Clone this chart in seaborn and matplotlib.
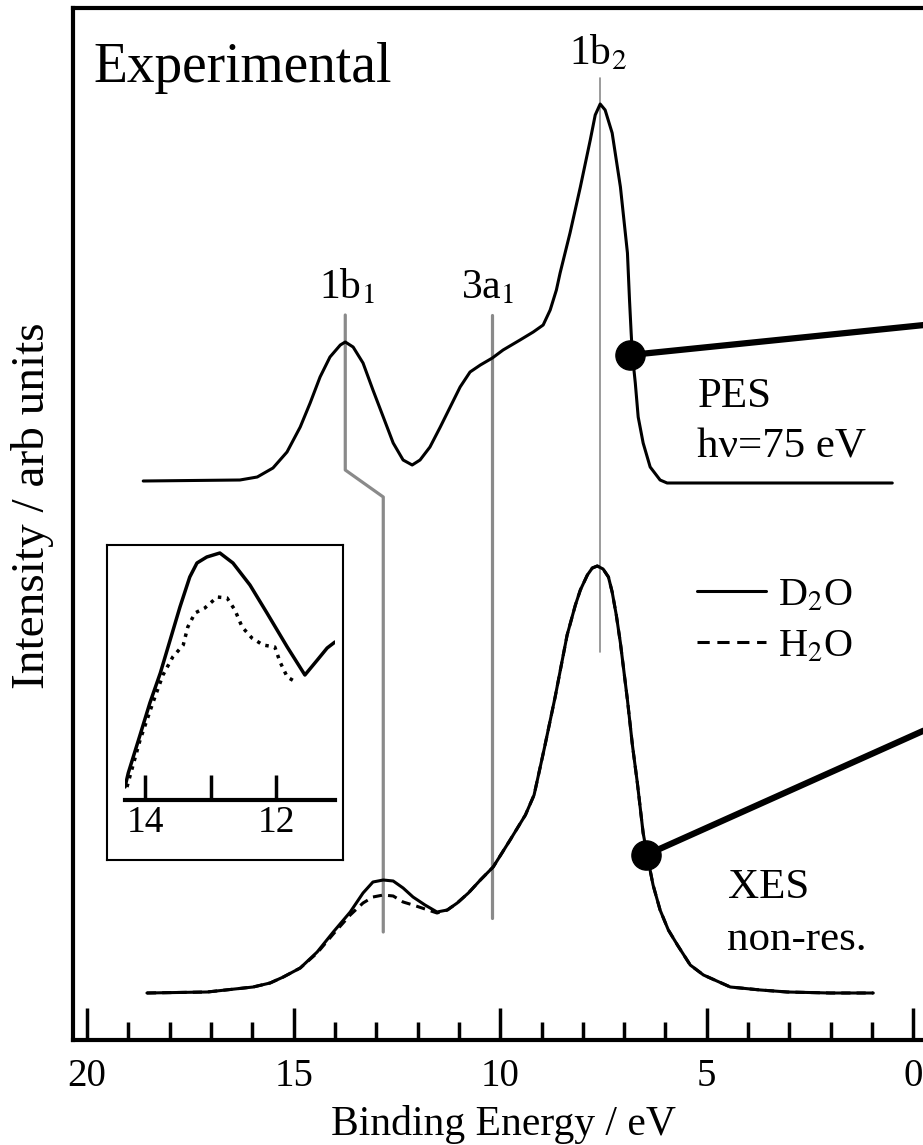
import matplotlib
matplotlib.use("Agg")
import matplotlib.pyplot as plt
import seaborn as sns
from matplotlib.lines import Line2D
from matplotlib.ticker import MultipleLocator

# PES (hv = 75 eV), binding energy in eV / intensity in arb. units (offset)
pes_energy = [18.64, 16.30, 15.88, 15.50, 15.16, 14.84, 14.60, 14.36, 14.12, 13.87,
              13.75, 13.56, 13.32, 13.08, 12.83, 12.59, 12.35, 12.13, 11.94, 11.70,
              11.45, 11.21, 10.97, 10.73, 10.48, 10.19, 9.93, 9.52, 9.20, 8.96,
              8.79, 8.64, 8.55, 8.31, 8.06, 7.82, 7.70, 7.58, 7.46, 7.29,
              7.09, 6.92, 6.87, 6.83, 6.80, 6.73, 6.66, 6.54, 6.37, 6.13,
              5.96, 5.47, 0.51]
pes_int = [5.59, 5.60, 5.63, 5.72, 5.88, 6.13, 6.37, 6.63, 6.83, 6.95,
           6.98, 6.93, 6.77, 6.50, 6.23, 5.97, 5.80, 5.75, 5.80, 5.93,
           6.13, 6.33, 6.53, 6.68, 6.75, 6.82, 6.90, 7.00, 7.08, 7.15,
           7.30, 7.50, 7.67, 8.07, 8.53, 9.00, 9.25, 9.36, 9.30, 9.07,
           8.53, 7.87, 7.40, 7.07, 6.85, 6.57, 6.23, 5.97, 5.73, 5.60,
           5.57, 5.57, 5.57]

# XES non-resonant, D2O (solid) and H2O (dashed)
xes_energy = [18.55, 17.09, 15.98, 15.57, 15.25, 14.84, 14.43, 14.04, 13.63, 13.32,
              13.08, 12.83, 12.59, 12.35, 12.11, 11.82, 11.53, 11.28, 11.04, 10.77,
              10.48, 10.17, 9.76, 9.39, 9.18, 8.93, 8.67, 8.38, 8.18, 8.06,
              7.89, 7.77, 7.65, 7.51, 7.38, 7.29, 7.19, 7.09, 6.92, 6.80,
              6.68, 6.54, 6.42, 6.30, 6.13, 5.93, 5.71, 5.40, 5.08, 4.43,
              3.70, 3.05, 2.01, 0.97]
xes_d2o = [0.47, 0.48, 0.53, 0.57, 0.63, 0.72, 0.88, 1.08, 1.28, 1.47,
           1.58, 1.60, 1.59, 1.52, 1.43, 1.35, 1.28, 1.30, 1.37, 1.47,
           1.60, 1.73, 2.00, 2.25, 2.45, 2.92, 3.43, 4.05, 4.35, 4.50,
           4.65, 4.72, 4.74, 4.71, 4.63, 4.48, 4.25, 3.97, 3.40, 2.95,
           2.57, 2.07, 1.80, 1.55, 1.30, 1.10, 0.95, 0.75, 0.65, 0.53,
           0.50, 0.48, 0.47, 0.47]
xes_h2o = [0.47, 0.48, 0.53, 0.57, 0.63, 0.72, 0.87, 1.06, 1.25, 1.37,
           1.43, 1.45, 1.44, 1.38, 1.35, 1.31, 1.27, 1.30, 1.37, 1.47,
           1.60, 1.73, 2.00, 2.25, 2.45, 2.92, 3.43, 4.05, 4.35, 4.50,
           4.65, 4.72, 4.74, 4.71, 4.63, 4.48, 4.25, 3.97, 3.40, 2.95,
           2.57, 2.07, 1.80, 1.55, 1.30, 1.10, 0.95, 0.75, 0.65, 0.53,
           0.50, 0.48, 0.47, 0.47]

# inset: zoom on the 1b1 region
inset_energy_d2o = [14.31, 14.26, 14.08, 13.93, 13.77, 13.62, 13.47, 13.32, 13.21, 13.06,
                    12.86, 12.66, 12.40, 12.14, 11.83, 11.56, 11.37, 11.22, 11.10]
inset_d2o = [13, 27, 65, 97, 127, 160, 193, 223, 237, 243,
             247, 237, 215, 187, 153, 125, 140, 152, 158]
inset_energy_h2o = [14.28, 14.08, 13.88, 13.73, 13.58, 13.42, 13.35, 13.24, 13.09, 12.90,
                    12.75, 12.63, 12.52, 12.37, 12.20, 12.02, 11.94, 11.83, 11.70]
inset_h2o = [13, 60, 98, 125, 143, 155, 173, 187, 192, 203,
             202, 190, 173, 162, 155, 153, 138, 123, 118]
inset_ticks = [14, 13, 12]
inset_ticklabels = ["14", "", "12"]

# orbital markers (gray guide lines) and labels
orbital_labels = [r"1b$_1$", r"3a$_1$", r"1b$_2$"]
orbital_label_x = [13.70, 10.31, 7.62]
orbital_label_y = [7.42, 7.42, 9.76]
guide_1b1_x = [13.75, 13.75, 12.83, 12.83]
guide_1b1_y = [7.25, 5.70, 5.43, 1.08]
guide_3a1_x = [10.19, 10.19]
guide_3a1_y = [7.25, 1.22]
guide_1b2_x = [7.58, 7.58]
guide_1b2_y = [9.62, 3.88]

# pointers (dot on the curve -> off to the right)
pointer_x = [[6.85, -0.5], [6.47, -0.5]]
pointer_y = [[6.85, 7.16], [1.85, 3.14]]

sns.set_theme(style="white")
plt.rcParams["font.family"] = ["Liberation Serif", "DejaVu Serif"]
plt.rcParams["mathtext.fontset"] = "stix"
plt.rcParams["text.color"] = "black"
plt.rcParams["axes.labelcolor"] = "black"
plt.rcParams["xtick.color"] = "black"

fig = plt.figure(figsize=(9.23, 11.45), dpi=100)
ax = fig.add_axes([73 / 923, 105 / 1145, 861 / 923, 1032 / 1145])

gray = "#8a8a8a"
ax.plot(guide_1b1_x, guide_1b1_y, color=gray, lw=2.3)
ax.plot(guide_3a1_x, guide_3a1_y, color=gray, lw=2.3)
ax.plot(guide_1b2_x, guide_1b2_y, color=gray, lw=1.2)

sns.lineplot(x=pes_energy, y=pes_int, ax=ax, color="black", lw=2.2,
             estimator=None, sort=False)
sns.lineplot(x=xes_energy, y=xes_h2o, ax=ax, color="black", lw=2.2,
             linestyle=(0, (3, 2)), estimator=None, sort=False)
sns.lineplot(x=xes_energy, y=xes_d2o, ax=ax, color="black", lw=2.2,
             estimator=None, sort=False)

for px, py in zip(pointer_x, pointer_y):
    ax.plot(px, py, color="black", lw=4.5, solid_capstyle="butt")
    ax.plot(px[0], py[0], "o", color="black", ms=21)

ax.set_xlim(20.34, -0.5)
ax.set_ylim(0, 10.32)
ax.set_yticks([])
ax.xaxis.set_major_locator(MultipleLocator(5))
ax.xaxis.set_minor_locator(MultipleLocator(1))
ax.tick_params(axis="x", which="both", direction="in", bottom=True, top=False,
               width=2.5, color="black")
ax.tick_params(axis="x", which="major", length=23, labelsize=28, pad=13)
ax.tick_params(axis="x", which="minor", length=13)
for s in ax.spines.values():
    s.set_color("black")
    s.set_linewidth(3)

ax.set_xlabel("Binding Energy / eV", fontsize=30, labelpad=7)
ax.set_ylabel("Intensity / arb units", fontsize=34)
ax.yaxis.set_label_coords(-0.022, 0.518)

ax.text(19.85, 9.58, "Experimental", fontsize=40, ha="left", va="baseline")
for lab, lx, ly in zip(orbital_labels, orbital_label_x, orbital_label_y):
    ax.text(lx, ly, lab, fontsize=30, ha="center", va="baseline")
ax.text(5.23, 6.33, "PES", fontsize=31, ha="left", va="baseline")
ax.text(5.23, 5.83, "hν=75 eV", fontsize=31, ha="left", va="baseline")
ax.text(4.48, 1.42, "XES", fontsize=31, ha="left", va="baseline")
ax.text(4.50, 0.90, "non-res.", fontsize=31, ha="left", va="baseline")

handles = [Line2D([], [], color="black", lw=2.2),
           Line2D([], [], color="black", lw=2.2, linestyle=(0, (4, 2.5)))]
ax.legend(handles, [r"D$_2$O", r"H$_2$O"], loc="upper left",
          bbox_to_anchor=(5.23, 4.63), bbox_transform=ax.transData,
          frameon=False, fontsize=29, handlelength=1.7, handletextpad=0.3,
          labelspacing=0.35, borderpad=0, borderaxespad=0)

# inset frame
ax_box = fig.add_axes([107 / 923, 285 / 1145, 236 / 923, 315 / 1145])
ax_box.set_xticks([])
ax_box.set_yticks([])
for s in ax_box.spines.values():
    s.set_color("black")
    s.set_linewidth(1.5)

# inset data with its own short axis
ax_in = fig.add_axes([125 / 923, 345 / 1145, 210 / 923, 255 / 1145])
ax_in.patch.set_alpha(0)
sns.lineplot(x=inset_energy_h2o, y=inset_h2o, ax=ax_in, color="black", lw=2.5,
             linestyle=(0, (1, 1.6)), estimator=None, sort=False)
sns.lineplot(x=inset_energy_d2o, y=inset_d2o, ax=ax_in, color="black", lw=2.5,
             estimator=None, sort=False)
ax_in.set_xlim(14.31, 11.10)
ax_in.set_ylim(0, 255)
ax_in.set_yticks([])
ax_in.set_xticks(inset_ticks)
ax_in.set_xticklabels(inset_ticklabels)
ax_in.tick_params(axis="x", direction="in", bottom=True, length=18, width=2.5,
                  labelsize=27, pad=4, color="black")
for name, s in ax_in.spines.items():
    s.set_visible(name == "bottom")
ax_in.spines["bottom"].set_color("black")
ax_in.spines["bottom"].set_linewidth(3)

fig.savefig("out.png", dpi=100)
